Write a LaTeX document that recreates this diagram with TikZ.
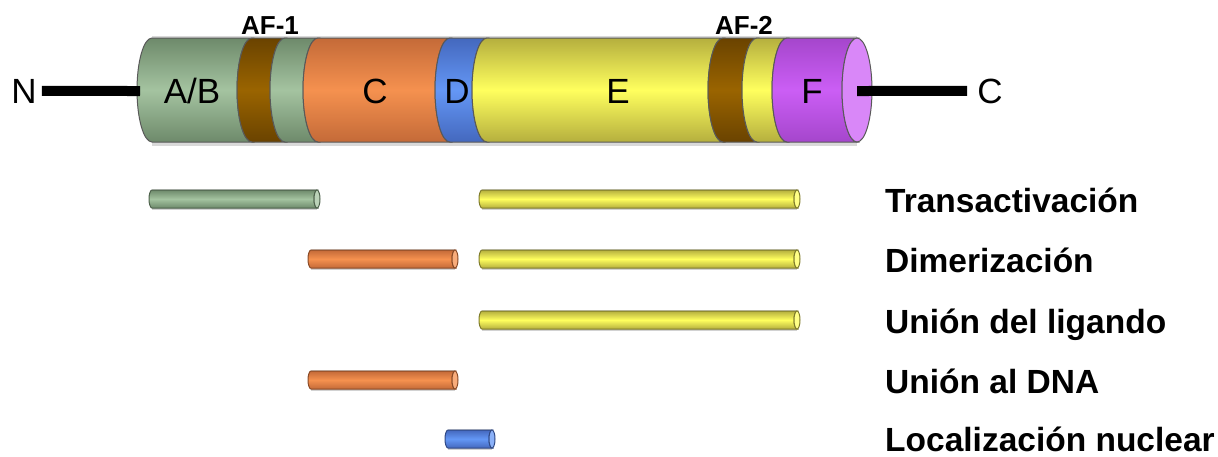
\documentclass[tikz,border=0pt]{standalone}
\usepackage{fontspec}
\setmainfont{Liberation Sans}
\definecolor{grL}{HTML}{A4C3A0}\definecolor{grD}{HTML}{6E8A6B}
\definecolor{brL}{HTML}{9A6400}\definecolor{brD}{HTML}{6A4300}
\definecolor{orL}{HTML}{F5914F}\definecolor{orD}{HTML}{C46A38}
\definecolor{blL}{HTML}{6497F5}\definecolor{blD}{HTML}{4468BE}
\definecolor{yeL}{HTML}{FFFF5E}\definecolor{yeD}{HTML}{B5AF3E}
\definecolor{puL}{HTML}{CB5EF5}\definecolor{puD}{HTML}{A546CC}
\definecolor{capC}{HTML}{D987F8}
\tikzset{
  seglbl/.style={font=\fontsize{35}{40}\selectfont, inner sep=0pt, anchor=base},
  aflbl/.style={font=\bfseries\fontsize{26}{30}\selectfont, inner sep=0pt, anchor=base},
  fnlbl/.style={font=\bfseries\fontsize{33.5}{38}\selectfont, inner sep=0pt, anchor=base west},
  stick/.style={line width=10pt, black},
  outl/.style={draw=black!65, line width=1pt},
}
\newcommand\cylseg[4]{%
  \shade[outl, top color=#4, bottom color=#4, middle color=#3]
    (#1,38) -- (#2,38) arc[start angle=90,end angle=270,x radius=15pt,y radius=52pt]
    -- (#1,142) arc[start angle=270,end angle=90,x radius=15pt,y radius=52pt] -- cycle;}
\newcommand\fbar[5]{%
  \fill[gray!35] (#1,#3-10.5) rectangle (#2,#3+11);
  \shade[draw=#5!70!black, line width=1pt, top color=#5, bottom color=#5, middle color=#4]
    (#1,#3-9) -- (#2,#3-9) arc[start angle=90,end angle=270,x radius=3pt,y radius=9pt]
    -- (#1,#3+9) arc[start angle=270,end angle=90,x radius=3pt,y radius=9pt] -- cycle;
  \draw[draw=#5!70!black, line width=1pt, fill=#4!75!white] (#2,#3) ellipse [x radius=3pt, y radius=9pt];}
\begin{document}
\begin{tikzpicture}[x=1pt,y=-1pt]
\useasboundingbox (0,0) rectangle (1218,456);
% halo / shadow
\fill[gray!30] (152,35.5) rectangle (857,146);
% cylinder segments
\cylseg{152}{252}{grL}{grD}
\cylseg{252}{285}{brL}{brD}
\cylseg{285}{318}{grL}{grD}
\cylseg{318}{450}{orL}{orD}
\cylseg{450}{487}{blL}{blD}
\cylseg{487}{723}{yeL}{yeD}
\cylseg{723}{757}{brL}{brD}
\cylseg{757}{787}{yeL}{yeD}
\cylseg{787}{857}{puL}{puD}
\draw[outl, fill=capC] (857,90) ellipse [x radius=15pt, y radius=52pt];
% termini
\coordinate (nend) at (140,91);
\coordinate (cstart) at (857,91);
\node[seglbl] (N) at (24,103) {N};
\node[seglbl] (Cterm) at (990,103) {C};
\draw[stick] ([xshift=5pt]N.east) -- (nend);
\draw[stick] (cstart) -- ([xshift=-10pt]Cterm.west);
% segment labels
\node[seglbl] (lAB) at (192,103) {A/B};
\node[seglbl] (lC) at (375,103) {C};
\node[seglbl] (lD) at (457,103) {D};
\node[seglbl] (lE) at (618,103) {E};
\node[seglbl] (lF) at (812,103) {F};
\node[aflbl] (af1) at (270,34) {AF-1};
\node[aflbl] (af2) at (744,34) {AF-2};
% function bars
\fbar{152}{317}{199}{grL}{grD}
\fbar{482}{797}{199}{yeL}{yeD}
\fbar{311}{455}{259}{orL}{orD}
\fbar{482}{797}{259}{yeL}{yeD}
\fbar{482}{797}{320}{yeL}{yeD}
\fbar{311}{455}{380}{orL}{orD}
\fbar{448}{492}{439}{blL}{blD}
% function labels
\node[fnlbl] (t1) at (885,212) {Transactivación};
\node[fnlbl] (t2) at (885,272) {Dimerización};
\node[fnlbl] (t3) at (885,333) {Unión del ligando};
\node[fnlbl] (t4) at (885,393) {Unión al DNA};
\node[fnlbl] (t5) at (885,451) {Localización nuclear};
\end{tikzpicture}
\end{document}
